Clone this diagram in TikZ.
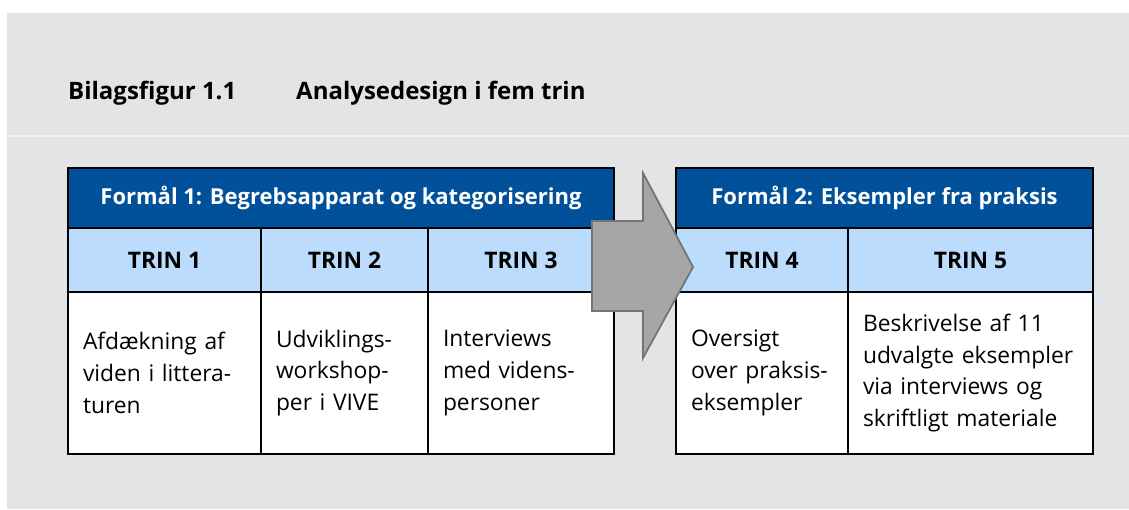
\documentclass[tikz,border=0pt]{standalone}
\usepackage{fontspec}
\setmainfont{Open Sans}
\definecolor{bg}{HTML}{E3E4E6}
\definecolor{sepline}{HTML}{F0F0F1}
\definecolor{hdrblue}{HTML}{00509A}
\definecolor{trinblue}{HTML}{BBDCFC}
\definecolor{arrowfill}{HTML}{A6A6A6}
\definecolor{arrowline}{HTML}{747474}
\tikzset{
  cell/.style={draw=black, line width=1.5pt, anchor=north west, inner sep=0pt, outer sep=0pt},
  hdr/.style={cell, fill=hdrblue, text=white, minimum height=60pt, font=\bfseries\fontsize{22}{26}\selectfont},
  trin/.style={cell, fill=trinblue, minimum height=64pt, font=\bfseries\fontsize{22.8}{26}\selectfont},
  body/.style={cell, fill=white, minimum height=162pt, align=left, inner xsep=15pt, font=\fontsize{22.8}{31.8}\selectfont},
  ttl/.style={anchor=base west, inner sep=0pt, font=\bfseries\fontsize{24}{28}\selectfont},
  bigarrow/.style={fill=arrowfill, draw=arrowline, line width=1.8pt, line join=miter}
}
\begin{document}
\begin{tikzpicture}[x=1pt,y=-1pt]
\useasboundingbox (0,0) rectangle (1129,509);
\fill[bg] (7,13) rectangle (1129,509);
\draw[sepline, line width=1.2pt] (7,136) -- (1129,136);
\node[ttl] (t1) at (68,99) {Bilagsfigur 1.1};
\node[ttl] (t2) at (296,99) {Analysedesign i fem trin};
% table 1
\node[hdr, minimum width=546pt] (h1) at (68,168) {Formål 1: Begrebsapparat og kategorisering};
\node[trin, minimum width=193pt] (tr1) at (68,228) {TRIN 1};
\node[trin, minimum width=167pt] (tr2) at (261,228) {TRIN 2};
\node[trin, minimum width=186pt] (tr3) at (428,228) {TRIN 3};
\node[body, text width=163pt] (b1) at (68,292) {\mbox{Afdækning af}\\\mbox{viden i littera-}\\turen};
\node[body, text width=137pt] (b2) at (261,292) {Udviklings-\\workshop-\\\mbox{per i VIVE}};
\node[body, text width=156pt] (b3) at (428,292) {Interviews\\\mbox{med videns-}\\personer};
% table 2
\node[hdr, minimum width=417pt] (h2) at (676,168) {Formål 2: Eksempler fra praksis};
\node[trin, minimum width=172pt] (tr4) at (676,228) {TRIN 4};
\node[trin, minimum width=245pt] (tr5) at (848,228) {TRIN 5};
\node[body, text width=142pt] (b4) at (676,292) {Oversigt\\\mbox{over praksis-}\\eksempler};
\node[body, text width=215pt] (b5) at (848,292) {\mbox{Beskrivelse af 11}\\\mbox{udvalgte eksempler}\\\mbox{via interviews og}\\\mbox{skriftligt materiale}};
% arrow
\draw[bigarrow] (592,221) -- (643,221) -- (643,173) -- (693,267) -- (643,358) -- (643,311) -- (592,311) -- cycle;
\end{tikzpicture}
\end{document}
